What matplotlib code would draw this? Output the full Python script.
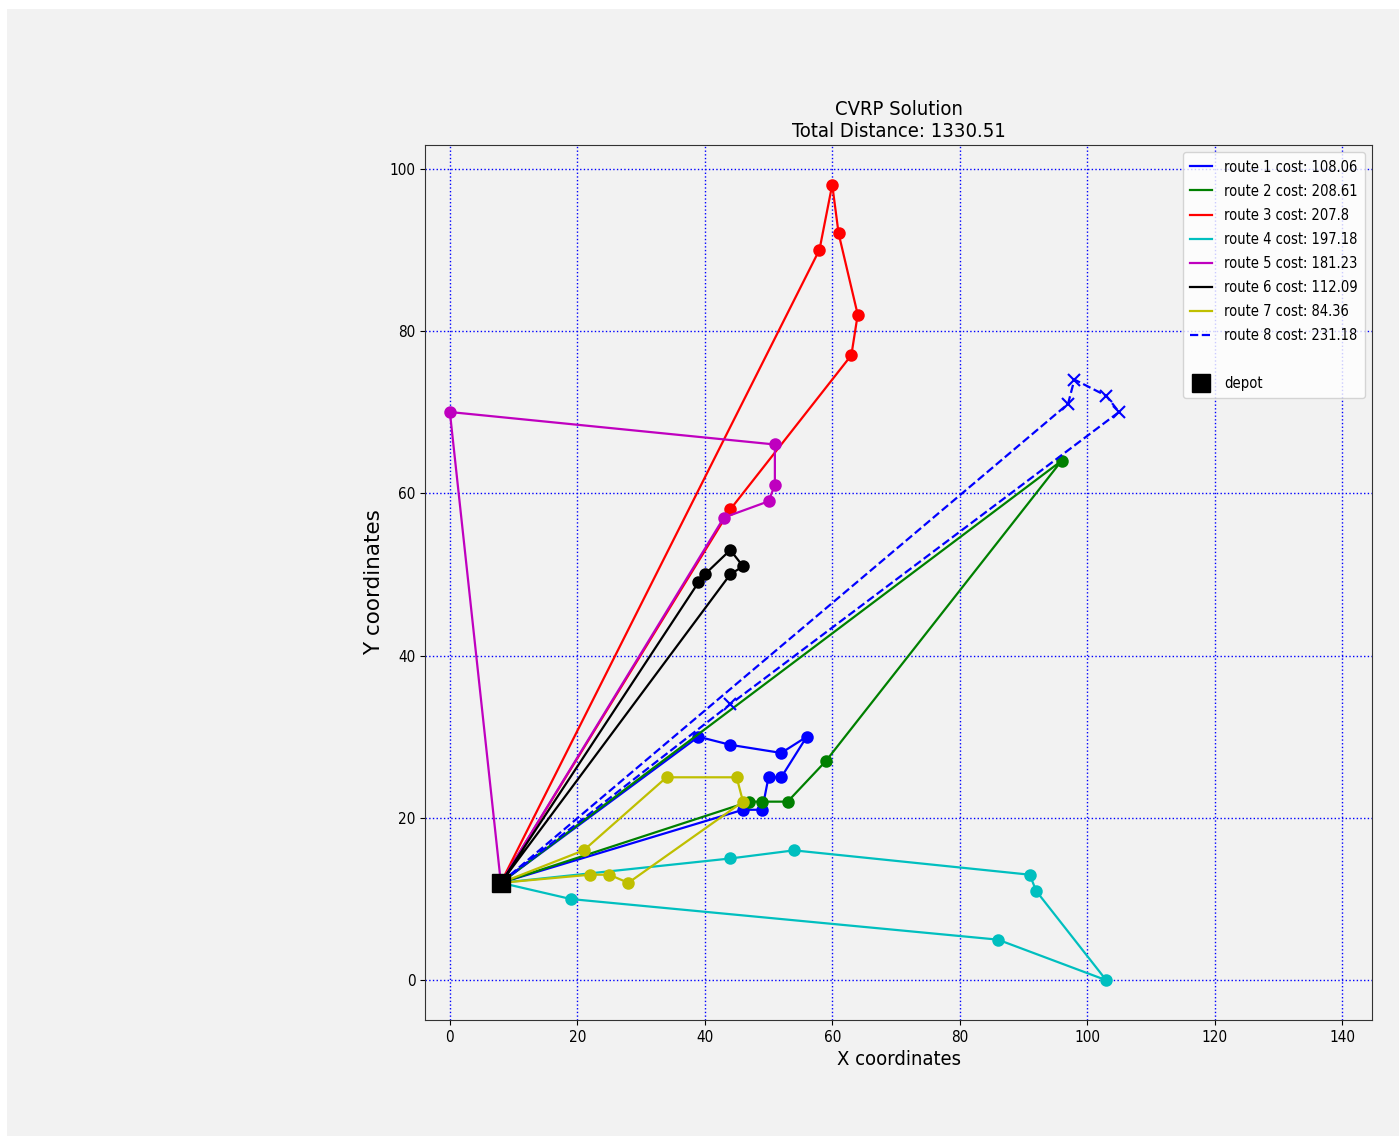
import matplotlib
matplotlib.use("Agg")
import matplotlib.pyplot as plt
from matplotlib import font_manager
from matplotlib.lines import Line2D
from matplotlib.patches import Rectangle

# depot and customer visits of every route (depot is added at both ends)
depot_x = 8
depot_y = 12

route_1_x = [39, 44, 52, 56, 52, 50, 49, 46]
route_1_y = [30, 29, 28, 30, 25, 25, 21, 21]
route_2_x = [47, 49, 53, 59, 96]
route_2_y = [22, 22, 22, 27, 64]
route_3_x = [58, 60, 61, 64, 63, 44]
route_3_y = [90, 98, 92, 82, 77, 58]
route_4_x = [19, 86, 103, 92, 91, 54, 44]
route_4_y = [10, 5, 0, 11, 13, 16, 15]
route_5_x = [0, 51, 51, 50, 43]
route_5_y = [70, 66, 61, 59, 57]
route_6_x = [39, 40, 44, 46, 44]
route_6_y = [49, 50, 53, 51, 50]
route_7_x = [21, 34, 45, 46, 28, 25, 22]
route_7_y = [16, 25, 25, 22, 12, 13, 13]
route_8_x = [97, 98, 103, 105, 44]
route_8_y = [71, 74, 72, 70, 34]

route_costs = [108.06, 208.61, 207.8, 197.18, 181.23, 112.09, 84.36, 231.18]
route_styles = ["b-o", "g-o", "r-o", "c-o", "m-o", "k-o", "y-o", "b--x"]

routes = [(route_1_x, route_1_y), (route_2_x, route_2_y), (route_3_x, route_3_y),
          (route_4_x, route_4_y), (route_5_x, route_5_y), (route_6_x, route_6_y),
          (route_7_x, route_7_y), (route_8_x, route_8_y)]

# narrow face for the horizontal texts, if one is installed
narrow = {"family": "DejaVu Sans", "fontstretch": "normal"}
for f in font_manager.fontManager.ttflist:
    if f.name == "DejaVu Sans" and f.stretch == "condensed":
        narrow = {"family": "DejaVu Sans", "fontstretch": "condensed"}
        break
else:
    names = {f.name for f in font_manager.fontManager.ttflist}
    if "Liberation Sans Narrow" in names:
        narrow = {"family": "Liberation Sans Narrow", "fontstretch": "normal"}

plt.rcParams["font.family"] = [narrow["family"], "DejaVu Sans"]
plt.rcParams["font.stretch"] = narrow["fontstretch"]

bg = "#f2f2f2"
fig = plt.figure(figsize=(13.99, 11.37), dpi=100, facecolor="white")
fig.patches.append(Rectangle((7 / 1399, 1 / 1137), 1 - 7 / 1399, 1 - 10 / 1137,
                             transform=fig.transFigure, facecolor=bg, edgecolor="none", zorder=-1))
ax = fig.add_axes([0.3038, 0.1029, 0.6769, 0.7696])
ax.set_facecolor(bg)

handles = []
for i, (xs, ys) in enumerate(routes):
    px = [depot_x] + xs + [depot_x]
    py = [depot_y] + ys + [depot_y]
    style = route_styles[i]
    ax.plot(px, py, style, linewidth=1.6, markersize=7.5 if style.endswith("o") else 8,
            markeredgewidth=1.5)
    handles.append(Line2D([], [], color=style[0], linestyle="--" if "--" in style else "-",
                          linewidth=1.6))

ax.plot(depot_x, depot_y, "ks", markersize=13.5, zorder=5)

labels = [f"route {i + 1} cost: {c}" for i, c in enumerate(route_costs)]
handles.append(Line2D([], [], linestyle="none"))
labels.append(" ")
handles.append(Line2D([], [], color="k", marker="s", linestyle="none", markersize=13.5))
labels.append("depot")

ax.legend(handles, labels, loc="upper right", fontsize=10.5, labelspacing=0.62,
          handlelength=1.5, borderpad=0.5)

ax.grid(True, color="b", linestyle=":", linewidth=1)
ax.set_xlim(-3.9, 144.7)
ax.tick_params(labelsize=11)
for s in ax.spines.values():
    s.set_color("#333333")

ax.set_title(f"CVRP Solution\nTotal Distance: {round(sum(route_costs), 2)}", fontsize=14.5)
ax.set_xlabel("X coordinates", fontsize=14.5)
ax.set_ylabel("Y coordinates", fontsize=15.5, family="DejaVu Sans", fontstretch="normal")

fig.savefig("out.png", dpi=100, facecolor=fig.get_facecolor())
